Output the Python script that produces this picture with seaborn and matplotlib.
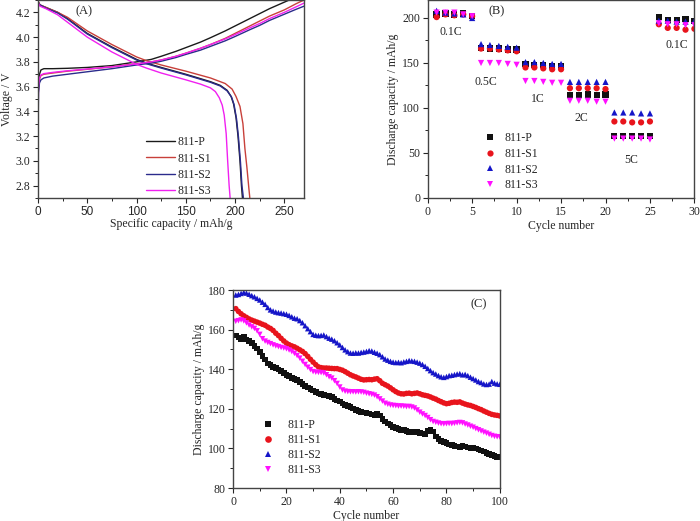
import numpy as np
import pandas as pd
import seaborn as sns
import matplotlib.pyplot as plt
from matplotlib.ticker import MultipleLocator

samples = ['811-P', '811-S1', '811-S2', '811-S3']

# ---- panel A: charge / discharge profiles (capacity mAh/g, voltage V)
chg_cap_P = [0, 0.5, 1.5, 3, 6, 15, 30, 50, 75, 100, 115, 125, 140, 150, 165, 175, 190, 200, 215, 225, 235, 245, 255]
chg_V_P = [3.50, 3.62, 3.70, 3.735, 3.745, 3.745, 3.748, 3.755, 3.77, 3.80, 3.82, 3.845, 3.885, 3.915, 3.96, 3.995, 4.05, 4.09, 4.15, 4.19, 4.23, 4.265, 4.30]
chg_cap_S = [0, 0.5, 1.5, 3, 6, 15, 30, 50, 75, 100, 115, 125, 140, 150, 165, 175, 190, 200, 215, 225, 235, 250, 262, 270]
chg_V_S1 = [3.48, 3.60, 3.66, 3.69, 3.70, 3.71, 3.725, 3.74, 3.76, 3.785, 3.80, 3.815, 3.845, 3.87, 3.91, 3.94, 3.99, 4.03, 4.09, 4.13, 4.17, 4.22, 4.27, 4.30]
chg_V_S2 = [3.20, 3.55, 3.63, 3.655, 3.67, 3.685, 3.70, 3.72, 3.745, 3.775, 3.79, 3.805, 3.835, 3.86, 3.895, 3.925, 3.97, 4.005, 4.06, 4.095, 4.135, 4.185, 4.225, 4.25]
chg_V_S3 = [3.30, 3.60, 3.67, 3.695, 3.705, 3.715, 3.728, 3.742, 3.76, 3.783, 3.80, 3.815, 3.845, 3.87, 3.91, 3.94, 3.985, 4.02, 4.075, 4.11, 4.15, 4.20, 4.245, 4.275]

dis_cap_P = [0, 2, 8, 20, 30, 50, 75, 100, 110, 125, 150, 175, 185, 192, 196, 198.5, 201, 203, 205, 206.5, 207.5]
dis_V_P = [4.29, 4.26, 4.24, 4.20, 4.15, 4.03, 3.92, 3.82, 3.79, 3.755, 3.70, 3.64, 3.61, 3.57, 3.52, 3.46, 3.35, 3.20, 3.00, 2.80, 2.70]
dis_cap_S1 = [0, 2, 8, 20, 30, 50, 75, 100, 110, 125, 150, 175, 190, 197, 201, 205, 208, 210, 212, 214, 215]
dis_V_S1 = [4.29, 4.26, 4.24, 4.20, 4.16, 4.05, 3.94, 3.84, 3.81, 3.775, 3.725, 3.67, 3.625, 3.58, 3.52, 3.44, 3.30, 3.10, 2.95, 2.78, 2.70]
dis_cap_S2 = [0, 2, 8, 20, 30, 50, 75, 100, 110, 125, 150, 175, 185, 192, 196.5, 199, 201.5, 203.5, 205.5, 207, 208.5]
dis_V_S2 = [4.28, 4.26, 4.235, 4.195, 4.145, 4.025, 3.915, 3.815, 3.785, 3.75, 3.695, 3.635, 3.605, 3.565, 3.515, 3.455, 3.34, 3.19, 2.99, 2.80, 2.70]
dis_cap_S3 = [0, 2, 8, 20, 30, 50, 75, 100, 110, 125, 150, 165, 175, 180, 184, 187, 189, 191, 192.5, 194, 195]
dis_V_S3 = [4.28, 4.25, 4.23, 4.18, 4.12, 4.00, 3.88, 3.78, 3.75, 3.71, 3.655, 3.62, 3.59, 3.56, 3.51, 3.45, 3.37, 3.22, 3.00, 2.80, 2.70]

# ---- panel B: rate capability, cycles 1-30
rate_cycles = list(range(1, 31))
rate_P = [204, 205, 204, 205, 202, 167, 166, 166, 165, 165, 149, 148, 148, 147, 147,
          114, 114, 115, 114, 115, 69, 69, 69, 69, 69, 201, 198, 198, 199, 197]
rate_S1 = [201, 204, 203, 204, 202, 166, 166, 165, 164, 163, 145, 145, 144, 143, 143,
           122, 122, 122, 122, 121, 85, 85, 84, 84, 85, 193, 189, 189, 187, 188]
rate_S2 = [208, 206, 205, 204, 200, 171, 170, 169, 168, 167, 151, 151, 150, 149, 149,
           129, 129, 129, 129, 129, 95, 95, 95, 94, 94, 197, 197, 196, 196, 197]
rate_S3 = [206, 206, 206, 204, 202, 150, 150, 150, 149, 148, 130, 130, 129, 128, 128,
           108, 108, 108, 107, 107, 66, 66, 66, 66, 65, 194, 193, 193, 192, 192]
rate_labels = ['0.1C', '0.5C', '1C', '2C', '5C', '0.1C']
rate_label_x = [2.6, 6.5, 12.4, 17.3, 22.9, 28.0]
rate_label_y = [184, 129, 110, 89, 42, 170]

# ---- panel C: cycling, cycles 1-100
cyc = list(range(1, 101))
cyc_P = [157.0, 156.0, 155.4, 156.4, 155.0, 154.2, 153.2, 151.8, 150.5, 148.7,
         146.8, 145.0, 143.0, 142.0, 141.2, 140.6, 139.8, 139.0, 138.0, 137.2,
         136.6, 135.6, 135.2, 134.5, 133.6, 132.5, 131.6, 130.8, 130.0, 129.2,
         128.5, 127.8, 127.4, 127.1, 126.8, 126.6, 126.0, 125.0, 124.3, 123.6,
         122.8, 122.0, 121.4, 120.8, 120.1, 119.4, 118.9, 118.4, 118.1, 117.8,
         117.6, 117.2, 116.9, 117.4, 116.6, 114.8, 113.6, 112.6, 111.8, 110.9,
         110.3, 109.8, 109.4, 109.2, 108.8, 108.4, 108.4, 108.6, 108.2, 107.9,
         107.6, 107.2, 108.8, 109.2, 108.6, 106.0, 104.7, 103.8, 103.2, 102.6,
         102.0, 101.6, 101.2, 100.9, 100.8, 101.1, 100.9, 100.5, 100.3, 100.2,
         100.0, 99.4, 98.9, 98.4, 97.8, 97.2, 96.8, 96.3, 95.8, 95.4]
cyc_S1 = [170.6, 169.2, 168.0, 167.0, 166.2, 165.4, 164.8, 164.3, 163.8, 163.3,
          162.7, 162.2, 161.3, 160.6, 159.6, 158.2, 157.0, 155.6, 154.3, 153.2,
          152.4, 151.8, 151.3, 150.6, 149.8, 149.0, 147.9, 146.5, 145.0, 143.6,
          142.3, 141.2, 140.8, 140.6, 140.6, 140.5, 140.4, 140.3, 140.3, 139.9,
          139.5, 138.8, 138.0, 137.2, 136.6, 136.1, 135.5, 134.9, 134.6, 134.7,
          134.8, 134.7, 135.0, 135.2, 134.2, 132.9, 132.2, 131.5, 130.6, 129.6,
          128.7, 128.0, 127.6, 127.5, 127.8, 127.9, 127.6, 127.8, 128.0, 127.6,
          127.1, 126.8, 126.5, 126.0, 125.4, 124.9, 124.2, 123.6, 123.0, 122.6,
          122.8, 123.2, 123.4, 123.3, 123.5, 122.9, 122.4, 122.0, 121.7, 121.2,
          120.7, 120.1, 119.6, 118.9, 118.3, 117.7, 117.2, 116.9, 116.7, 116.4]
cyc_S2 = [177.5, 177.8, 178.3, 178.8, 178.5, 177.9, 177.2, 176.6, 175.8, 175.0,
          173.9, 172.8, 171.2, 170.0, 169.4, 168.9, 168.6, 168.4, 168.1, 167.8,
          167.2, 166.5, 165.8, 165.5, 164.6, 163.5, 162.0, 160.5, 159.0, 157.6,
          157.2, 157.0, 157.1, 157.3, 156.5, 155.7, 155.2, 154.4, 153.4, 152.3,
          151.0, 149.8, 148.9, 148.2, 148.1, 148.3, 148.2, 148.5, 148.7, 149.0,
          149.4, 149.2, 148.6, 148.1, 147.4, 146.3, 145.2, 144.6, 144.0, 143.6,
          143.4, 143.5, 143.3, 143.7, 144.0, 144.4, 144.2, 144.0, 143.6, 143.1,
          142.4, 141.5, 140.4, 139.3, 138.3, 137.6, 136.8, 136.2, 135.9, 136.3,
          136.8, 137.0, 137.3, 137.6, 137.8, 137.2, 137.4, 136.8, 136.0, 135.3,
          134.6, 133.8, 133.3, 132.6, 132.3, 132.5, 133.8, 133.0, 132.6, 132.4]
cyc_S3 = [164.2, 164.5, 164.9, 164.4, 163.4, 162.3, 161.4, 160.6, 159.4, 157.6,
          155.4, 154.2, 153.5, 152.9, 152.3, 151.8, 151.4, 151.0, 150.7, 150.3,
          149.7, 148.9, 148.0, 146.9, 145.6, 144.0, 142.4, 141.0, 139.8, 138.8,
          138.5, 138.4, 138.3, 138.1, 137.2, 136.2, 135.5, 134.2, 132.8, 131.0,
          129.5, 128.9, 128.7, 128.6, 128.6, 128.5, 128.6, 128.5, 128.3, 127.9,
          127.6, 127.3, 126.9, 126.1, 125.0, 123.9, 122.8, 122.3, 121.9, 121.7,
          121.6, 121.4, 121.4, 121.3, 121.1, 121.2, 120.9, 120.4, 119.4, 118.3,
          117.4, 116.6, 115.6, 114.5, 113.6, 113.2, 112.8, 112.5, 112.4, 112.5,
          112.6, 112.5, 112.7, 112.9, 113.1, 112.9, 112.3, 111.8, 111.2, 110.7,
          110.0, 109.4, 108.8, 108.2, 107.7, 107.1, 106.5, 106.1, 105.9, 105.8]

line_colors = ['#1a1a1a', '#c8403a', '#2b2b8c', '#f020f0']
mark_colors = ['#111111', '#e8141c', '#1515c8', '#ff10ff']
markers = ['s', 'o', '^', 'v']

sns.set_style('ticks')
plt.rcParams['font.family'] = ['Liberation Serif', 'DejaVu Serif']
plt.rcParams['font.size'] = 8.5
plt.rcParams['axes.edgecolor'] = '#444444'
plt.rcParams['axes.linewidth'] = 1.0


def style_axis(ax, xmaj, xmin, ymaj, ymin):
    ax.xaxis.set_major_locator(MultipleLocator(xmaj))
    ax.xaxis.set_minor_locator(MultipleLocator(xmin))
    ax.yaxis.set_major_locator(MultipleLocator(ymaj))
    ax.yaxis.set_minor_locator(MultipleLocator(ymin))
    ax.tick_params(which='major', direction='out', length=3.5, width=0.8, labelsize=8.5, pad=2)
    ax.tick_params(which='minor', direction='out', length=2, width=0.7)
    for s in ax.spines.values():
        s.set_visible(True)


fig = plt.figure(figsize=(7, 5.21), dpi=100)

# ---------------- panel A
axA = fig.add_axes([0.0543, 0.620, 0.380, 0.380])
rows = []
chg = {'811-P': (chg_cap_P, chg_V_P), '811-S1': (chg_cap_S, chg_V_S1),
       '811-S2': (chg_cap_S, chg_V_S2), '811-S3': (chg_cap_S, chg_V_S3)}
dis = {'811-P': (dis_cap_P, dis_V_P), '811-S1': (dis_cap_S1, dis_V_S1),
       '811-S2': (dis_cap_S2, dis_V_S2), '811-S3': (dis_cap_S3, dis_V_S3)}
for name in samples:
    for c, v in zip(*chg[name]):
        rows.append((name, 'charge', c, v))
    for c, v in zip(*dis[name]):
        rows.append((name, 'discharge', c, v))
dfA = pd.DataFrame(rows, columns=['sample', 'branch', 'cap', 'V'])
sns.lineplot(data=dfA, x='cap', y='V', hue='sample', units='branch', estimator=None,
             sort=False, palette=line_colors, hue_order=samples, linewidth=1.0, ax=axA)
axA.set_xlim(0, 270)
axA.set_ylim(2.7, 4.3)
style_axis(axA, 50, 25, 0.2, 0.1)
for lab in axA.get_xticklabels():
    lab.set_family(['Liberation Sans', 'DejaVu Sans'])
axA.set_xlabel('Specific capacity / mAh/g', labelpad=0)
axA.set_ylabel('Voltage / V', labelpad=2)
axA.text(47, 4.21, '(A)', ha='center', va='center', fontsize=9)
axA.legend(title=None, loc='upper left', bbox_to_anchor=(0.39, 0.335), frameon=False,
           fontsize=8.5, handlelength=2.4, labelspacing=0.35, borderaxespad=0, handletextpad=0.2)

# ---------------- panel B
axB = fig.add_axes([0.611, 0.620, 0.381, 0.380])
dfB = pd.DataFrame({'cycle': rate_cycles * 4,
                    'cap': rate_P + rate_S1 + rate_S2 + rate_S3,
                    'sample': [s for s in samples for _ in rate_cycles]})
sns.scatterplot(data=dfB, x='cycle', y='cap', hue='sample', style='sample', hue_order=samples,
                style_order=samples, palette=mark_colors, markers=markers, s=20, linewidth=0, ax=axB)
axB.set_xlim(0, 30)
axB.set_ylim(0, 220)
style_axis(axB, 5, 2.5, 50, 25)
axB.set_xlabel('Cycle number', labelpad=2)
axB.set_ylabel('Discharge capacity / mAh/g', labelpad=2)
for t, x, y in zip(rate_labels, rate_label_x, rate_label_y):
    axB.text(x, y, t, ha='center', va='center', fontsize=8.5)
axB.text(7.8, 207, '(B)', ha='center', va='center', fontsize=9)
axB.legend(title=None, loc='upper left', bbox_to_anchor=(0.17, 0.355), frameon=False,
           fontsize=8.5, labelspacing=0.3, borderaxespad=0, handletextpad=0.3, markerscale=1.0)

# ---------------- panel C
axC = fig.add_axes([0.333, 0.0633, 0.381, 0.380])
dfC = pd.DataFrame({'cycle': cyc * 4,
                    'cap': cyc_P + cyc_S1 + cyc_S2 + cyc_S3,
                    'sample': [s for s in samples for _ in cyc]})
sns.scatterplot(data=dfC, x='cycle', y='cap', hue='sample', style='sample', hue_order=samples,
                style_order=samples, palette=mark_colors, markers=markers, s=16, linewidth=0, ax=axC)
axC.set_xlim(0, 100)
axC.set_ylim(80, 180)
style_axis(axC, 20, 10, 20, 10)
axC.set_xlabel('Cycle number', labelpad=2)
axC.set_ylabel('Discharge capacity / mAh/g', labelpad=2)
axC.text(92, 173, '(C)', ha='center', va='center', fontsize=9)
axC.legend(title=None, loc='upper left', bbox_to_anchor=(0.07, 0.37), frameon=False,
           fontsize=8.5, labelspacing=0.25, borderaxespad=0, handletextpad=0.6, markerscale=1.2)

fig.savefig('out.png', dpi=100)
